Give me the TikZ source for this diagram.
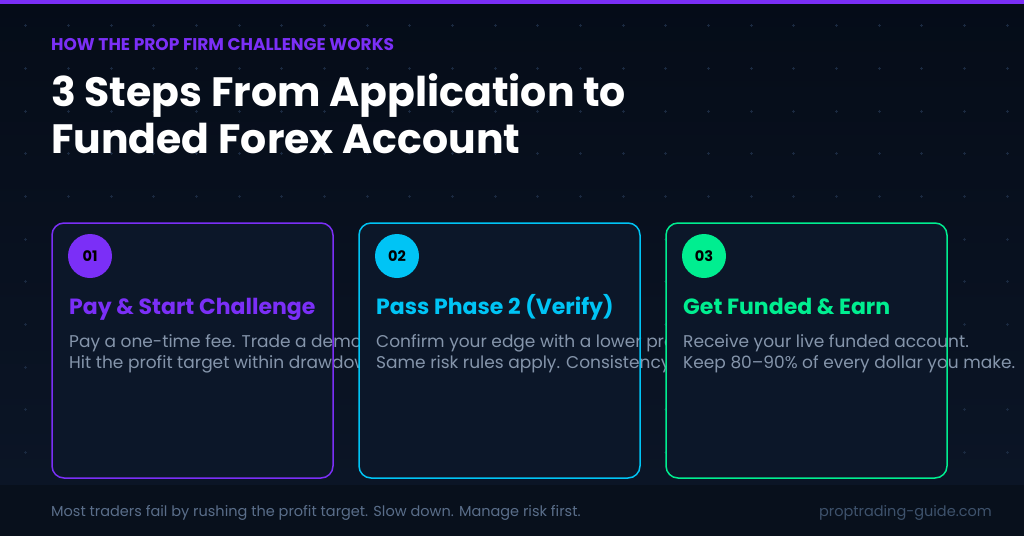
\documentclass[tikz,border=0pt]{standalone}
\usepackage{fontspec}
\setmainfont{Poppins}
\usetikzlibrary{positioning,calc}
\definecolor{bgtop}{HTML}{050C18}
\definecolor{bgbot}{HTML}{0B1526}
\definecolor{cardbg}{HTML}{0C1729}
\definecolor{footbg}{HTML}{08101C}
\definecolor{stepviolet}{HTML}{7B2FF7}
\definecolor{stepcyan}{HTML}{00C4F5}
\definecolor{stepgreen}{HTML}{00EE90}
\definecolor{bodytxt}{HTML}{8595AB}
\definecolor{griddot}{HTML}{1A2940}
\definecolor{foottxt}{HTML}{5A6E8A}
\definecolor{sitetxt}{HTML}{3E526C}

\begin{document}
\begin{tikzpicture}[x=1pt,y=-1pt,
    txt/.style={anchor=base west,inner sep=0pt},
    cardfill/.style={fill=cardbg,rounded corners=12pt},
    cardline/.style={line width=1.5pt,rounded corners=12pt},
    badge/.style={circle,minimum size=44pt,inner sep=0pt,text=black,
        font=\bfseries\fontsize{14.5}{14.5}\selectfont},
    head/.style={txt,font=\bfseries\fontsize{22}{22}\selectfont},
    body/.style={txt,text=bodytxt,font=\fontsize{17}{17}\selectfont}
    ]
% fond, grille et bandeau
\useasboundingbox (0,0) rectangle (1024,536);
\shade[top color=bgtop,bottom color=bgbot] (0,0) rectangle (1024,485);
\foreach \gx in {0,...,23}
  \foreach \gy in {0,...,10}
    \draw[griddot,line width=0.8pt] ({25.7+42.67*\gx-1.5},{25.7+42.67*\gy}) -- +(3,0)
        ({25.7+42.67*\gx},{25.7+42.67*\gy-1.5}) -- +(0,3);
\fill[stepviolet] (0,0) rectangle (1024,4);
\fill[footbg] (0,485) rectangle (1024,536);

\node[txt,text=stepviolet,font=\bfseries\fontsize{17}{17}\selectfont] (kicker) at (51,50)
    {HOW THE PROP FIRM CHALLENGE WORKS};
\node[txt,text=white,font=\bfseries\fontsize{41}{41}\selectfont] (title1) at (51,106)
    {3 Steps From Application to};
\node[txt,text=white,font=\bfseries\fontsize{41}{41}\selectfont] (title2) at (51,153)
    {Funded Forex Account};

\foreach \i/\cx/\col/\head/\la/\lb in {
    1/52/stepviolet/{Pay \& Start Challenge}/{Pay a one-time fee. Trade a demo}/{Hit the profit target within drawdown},
    2/359/stepcyan/{Pass Phase 2 (Verify)}/{Confirm your edge with a lower profit}/{Same risk rules apply. Consistency},
    3/666/stepgreen/{Get Funded \& Earn}/{Receive your live funded account.}/{Keep 80--90\% of every dollar you make.}}
{
  \fill[cardfill] (\cx,223) rectangle ++(281,255);
  \coordinate (c\i) at (\cx,223);
  \node[badge,fill=\col] (n\i) at ($(c\i)+(38,33)$) {0\i};
  \node[head,text=\col] (h\i) at ($(c\i)+(17,91)$) {\head};
  \node[body] (a\i) at ($(c\i)+(17,124)$) {\la};
  \node[body] (b\i) at ($(c\i)+(17,145)$) {\lb};
  \draw[cardline,draw=\col] (c\i) rectangle ++(281,255);
}

\node[txt,text=foottxt,font=\fontsize{14.5}{14.5}\selectfont] (tip) at (51,516)
    {Most traders fail by rushing the profit target. Slow down. Manage risk first.};
\node[anchor=base east,inner sep=0pt,text=sitetxt,font=\fontsize{14.5}{14.5}\selectfont] (site) at (992,516)
    {proptrading-guide.com};
\end{tikzpicture}
\end{document}
